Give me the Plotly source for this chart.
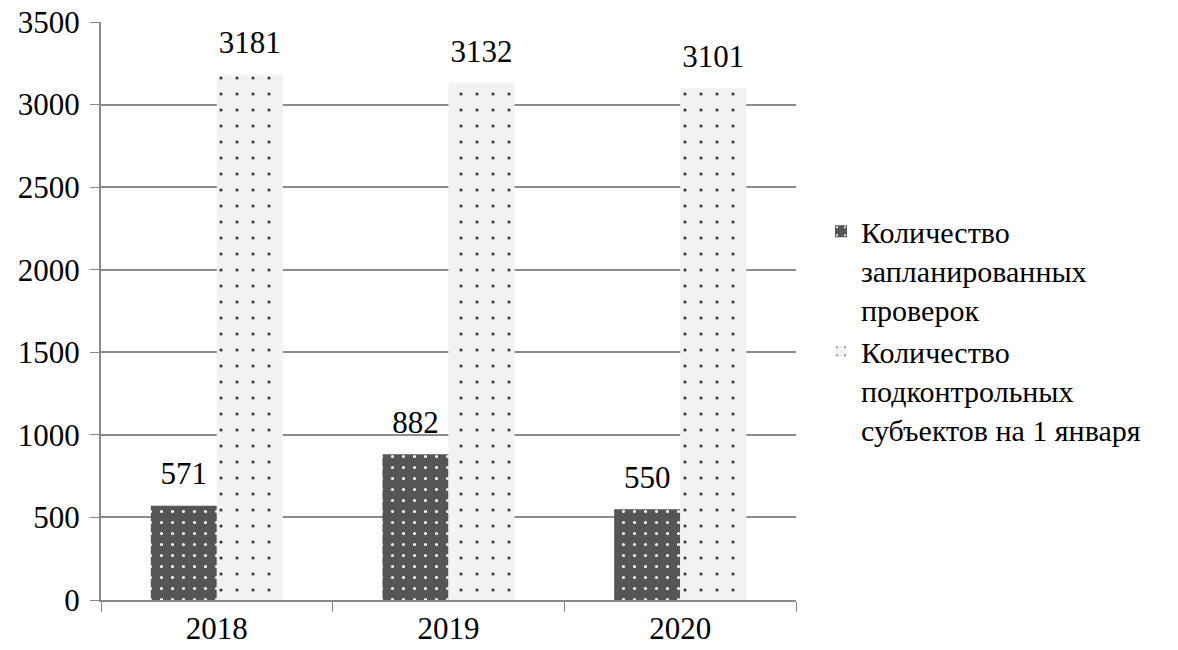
import plotly.graph_objects as go

years = ["2018", "2019", "2020"]
planned = [571, 882, 550]
subjects = [3181, 3132, 3101]
name_planned = "Количество<br>запланированных<br>проверок"
name_subjects = "Количество<br>подконтрольных<br>субъектов на 1 января"

font = "Times New Roman, Liberation Serif, Tinos, DejaVu Serif, serif"
fs = 31
fs_leg = 30

fig = go.Figure()
fig.add_trace(go.Bar(
    x=years, y=planned, name=name_planned,
    marker=dict(color="#555555", line=dict(width=0),
                pattern=dict(shape=".", fgcolor="white", bgcolor="#555555",
                             size=11, solidity=0.06, fillmode="replace")),
))
fig.add_trace(go.Bar(
    x=years, y=subjects, name=name_subjects,
    marker=dict(color="#f2f2f2", line=dict(width=0),
                pattern=dict(shape=".", fgcolor="#333333", bgcolor="#f2f2f2",
                             size=16, solidity=0.03, fillmode="replace")),
))
for vals in (planned, subjects):
    fig.add_trace(go.Scatter(
        x=years, y=vals, mode="markers+text", text=[str(v) for v in vals],
        textposition="top center", showlegend=False, hoverinfo="skip",
        marker=dict(size=20, opacity=0), cliponaxis=False,
        textfont=dict(family=font, size=fs, color="black"),
    ))

fig.update_layout(
    width=1178, height=650,
    margin=dict(l=93, r=390, t=14, b=58, autoexpand=False),
    paper_bgcolor="white", plot_bgcolor="white",
    barmode="group", bargap=0.43, bargroupgap=0,
    scattermode="group", scattergap=0.43,
    font=dict(family=font, size=fs, color="black"),
    showlegend=True,
    legend=dict(x=1.036, y=0.683, xanchor="left", yanchor="top",
                font=dict(family=font, size=fs_leg, color="black"),
                valign="top", tracegroupgap=4, itemwidth=30),
)
fig.update_xaxes(
    type="category", tickson="boundaries", ticks="outside", ticklen=10,
    tickcolor="#888888", showline=True, linecolor="#888888", linewidth=2,
    showgrid=False, automargin=False,
    tickfont=dict(family=font, size=fs, color="black"),
)
fig.update_yaxes(
    range=[0, 3500], dtick=500, ticks="outside", ticklen=9,
    tickcolor="#888888", showline=True, linecolor="#888888", linewidth=2,
    showgrid=True, gridcolor="#8c8c8c", gridwidth=1.5, zeroline=False,
    automargin=False, ticklabelstandoff=4, ticklabeloverflow="allow",
    tickfont=dict(family=font, size=fs, color="black"),
)

fig.write_html("out.html")
